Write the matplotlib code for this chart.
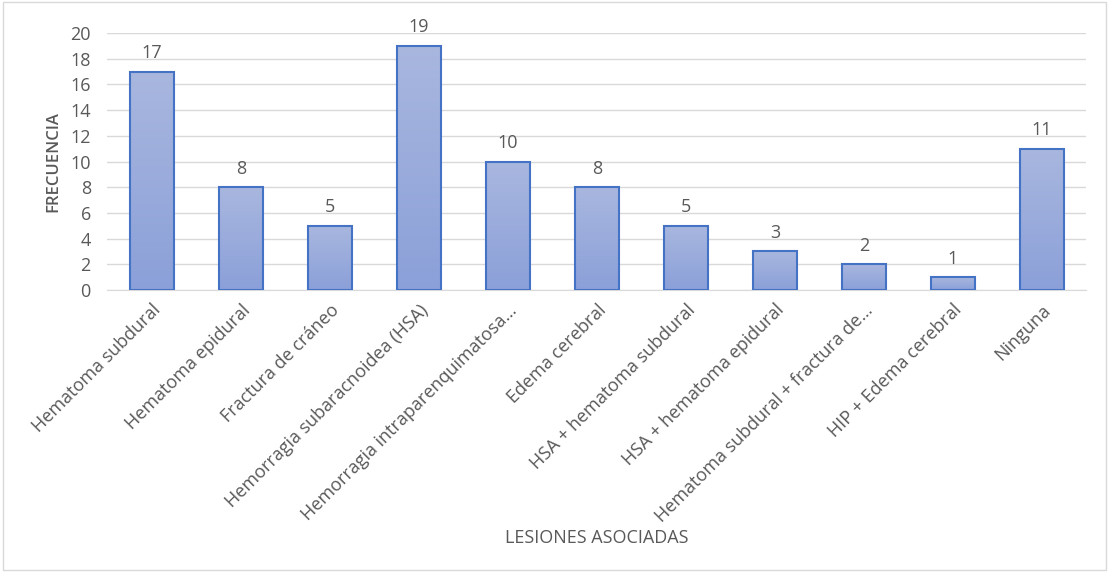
import numpy as np
import matplotlib.pyplot as plt
from matplotlib.patches import Rectangle
from matplotlib.colors import LinearSegmentedColormap

categorias = ['Hematoma subdural', 'Hematoma epidural', 'Fractura de cráneo',
              'Hemorragia subaracnoidea (HSA)', 'Hemorragia intraparenquimatosa…',
              'Edema cerebral', 'HSA + hematoma subdural', 'HSA + hematoma epidural',
              'Hematoma subdural + fractura de…', 'HIP + Edema cerebral', 'Ninguna']
frecuencia = [17, 8, 5, 19, 10, 8, 5, 3, 2, 1, 11]
yticks = [0, 2, 4, 6, 8, 10, 12, 14, 16, 18, 20]

gris = '#595959'
plt.rcParams['font.family'] = ['Open Sans', 'DejaVu Sans']

fig = plt.figure(figsize=(11.09, 5.72), dpi=100)
ax = fig.add_axes([0.0969, 0.4930, 0.8828, 0.4493])

x = np.arange(len(categorias))
bars = ax.bar(x, frecuencia, width=0.5, color='none', edgecolor='#4472C4',
              linewidth=1.5, zorder=3)

# degradado vertical dentro de cada barra
grad = np.linspace(0, 1, 256).reshape(-1, 1)
cmap = LinearSegmentedColormap.from_list('g', ['#8BA0D9', '#A9B7DF'])
for b in bars:
    x0, w, h = b.get_x(), b.get_width(), b.get_height()
    im = ax.imshow(grad, cmap=cmap, aspect='auto', origin='lower',
                   extent=[x0, x0 + w, 0, h], zorder=2)
    im.set_clip_path(Rectangle((x0, 0), w, h, transform=ax.transData))
    ax.text(x0 + w / 2, h + 0.75, str(int(h)), ha='center', va='bottom',
            fontsize=13, color=gris)

ax.set_xlim(-0.5, len(categorias) - 0.5)
ax.set_ylim(0, 20)
ax.set_yticks(yticks)
ax.grid(axis='y', color='#D9D9D9', linewidth=1, zorder=0)
ax.set_axisbelow(True)
for s in ['top', 'right', 'left']:
    ax.spines[s].set_visible(False)
ax.spines['bottom'].set_color('#D9D9D9')
ax.tick_params(axis='both', length=0, colors=gris, labelsize=13)
ax.tick_params(axis='y', pad=12)
ax.set_xticks(x)
ax.set_xticklabels(categorias, rotation=45, ha='right', rotation_mode='anchor',
                   fontsize=13)
ax.tick_params(axis='x', pad=8)
ax.set_ylabel('FRECUENCIA', color=gris, fontsize=12, fontweight='semibold', labelpad=6)
fig.text(0.538, 0.06, 'LESIONES ASOCIADAS', ha='center', va='center',
         color=gris, fontsize=13)

fig.patches.append(Rectangle((0.003, 0.004), 0.994, 0.992, transform=fig.transFigure,
                             fill=False, edgecolor='#D9D9D9', linewidth=1))

fig.savefig('out.png', dpi=100)
